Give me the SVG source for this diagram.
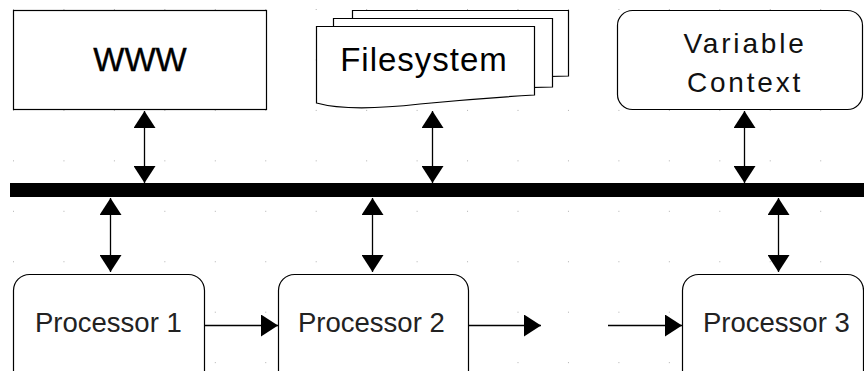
<svg xmlns="http://www.w3.org/2000/svg" width="864" height="371" viewBox="0 0 864 371">
  <style>
    .box { fill: #fff; stroke: #000; stroke-width: 1.2; }
    .link { fill: none; stroke: #000; stroke-width: 1.3; }
    .big { font-family: "Liberation Sans", Arial, sans-serif; font-size: 33px; fill: #000; }
    .mid { font-family: "Liberation Sans", Arial, sans-serif; font-size: 28px; fill: #111; letter-spacing: 2.8px; }
    .proc { font-family: "Liberation Sans", Arial, sans-serif; font-size: 27.5px; fill: #222; }
  </style>
  <defs>
    <pattern id="grid" x="13" y="9" width="50.45" height="50.45" patternUnits="userSpaceOnUse">
      <rect width="1" height="1" fill="#b0b0b0"/>
    </pattern>
    <marker id="head" viewBox="0 0 17 22" refX="17" refY="11" markerWidth="17" markerHeight="22" markerUnits="userSpaceOnUse" orient="auto-start-reverse">
      <path d="M0,0 L17,11 L0,22 Z" fill="#000"/>
    </marker>
  </defs>

  <!-- background and dot grid -->
  <rect width="864" height="371" fill="#fff"/>
  <rect width="864" height="371" fill="url(#grid)"/>

  <!-- bus -->
  <rect id="bus" x="10" y="183" width="854" height="14" fill="#000"/>

  <g id="www">
    <rect class="box" x="13.5" y="10.5" width="253" height="99"/>
    <text class="big" x="140" y="71" text-anchor="middle" stroke="#000" stroke-width="0.4">WWW</text>
  </g>

  <g id="filesystem">
    <path class="box" d="M352.5,10.5 H568.5 V76 L352.5,82 Z"/>
    <path class="box" d="M333.5,18.5 H552.5 V87 L333.5,93 Z"/>
    <path class="box" d="M316.5,26.5 H534.5 V95 C500,97 460,100 420,104 C385,108 345,111 316.5,103 Z"/>
    <text class="big" x="424" y="71" text-anchor="middle" letter-spacing="1">Filesystem</text>
  </g>

  <g id="variable-context">
    <rect class="box" x="617.5" y="10.5" width="245" height="99" rx="15"/>
    <text class="mid" x="745" y="53" text-anchor="middle">Variable</text>
    <text class="mid" x="745" y="92" text-anchor="middle">Context</text>
  </g>

  <g id="processor-1">
    <rect class="box" x="13.5" y="274.5" width="191" height="120" rx="16"/>
    <text class="proc" x="35" y="332">Processor 1</text>
  </g>

  <g id="processor-2">
    <rect class="box" x="278.5" y="274.5" width="190" height="120" rx="16"/>
    <text class="proc" x="298" y="332">Processor 2</text>
  </g>

  <g id="processor-3">
    <rect class="box" x="682.5" y="274.5" width="181" height="120" rx="16"/>
    <text class="proc" x="703" y="332">Processor 3</text>
  </g>

  <g id="connectors">
    <!-- sources to bus -->
    <line class="link" x1="144.5" y1="111" x2="144.5" y2="183" marker-start="url(#head)" marker-end="url(#head)"/>
    <line class="link" x1="432.5" y1="111" x2="432.5" y2="183" marker-start="url(#head)" marker-end="url(#head)"/>
    <line class="link" x1="744.5" y1="111" x2="744.5" y2="183" marker-start="url(#head)" marker-end="url(#head)"/>
    <!-- bus to processors -->
    <line class="link" x1="110.5" y1="198" x2="110.5" y2="272" marker-start="url(#head)" marker-end="url(#head)"/>
    <line class="link" x1="372.5" y1="198" x2="372.5" y2="272" marker-start="url(#head)" marker-end="url(#head)"/>
    <line class="link" x1="778.5" y1="198" x2="778.5" y2="272" marker-start="url(#head)" marker-end="url(#head)"/>
    <!-- processor chain -->
    <line class="link" x1="205" y1="325.5" x2="278" y2="325.5" marker-end="url(#head)"/>
    <line class="link" x1="469" y1="325.5" x2="541" y2="325.5" marker-end="url(#head)"/>
    <line class="link" x1="608" y1="325.5" x2="682" y2="325.5" marker-end="url(#head)"/>
  </g>
</svg>
